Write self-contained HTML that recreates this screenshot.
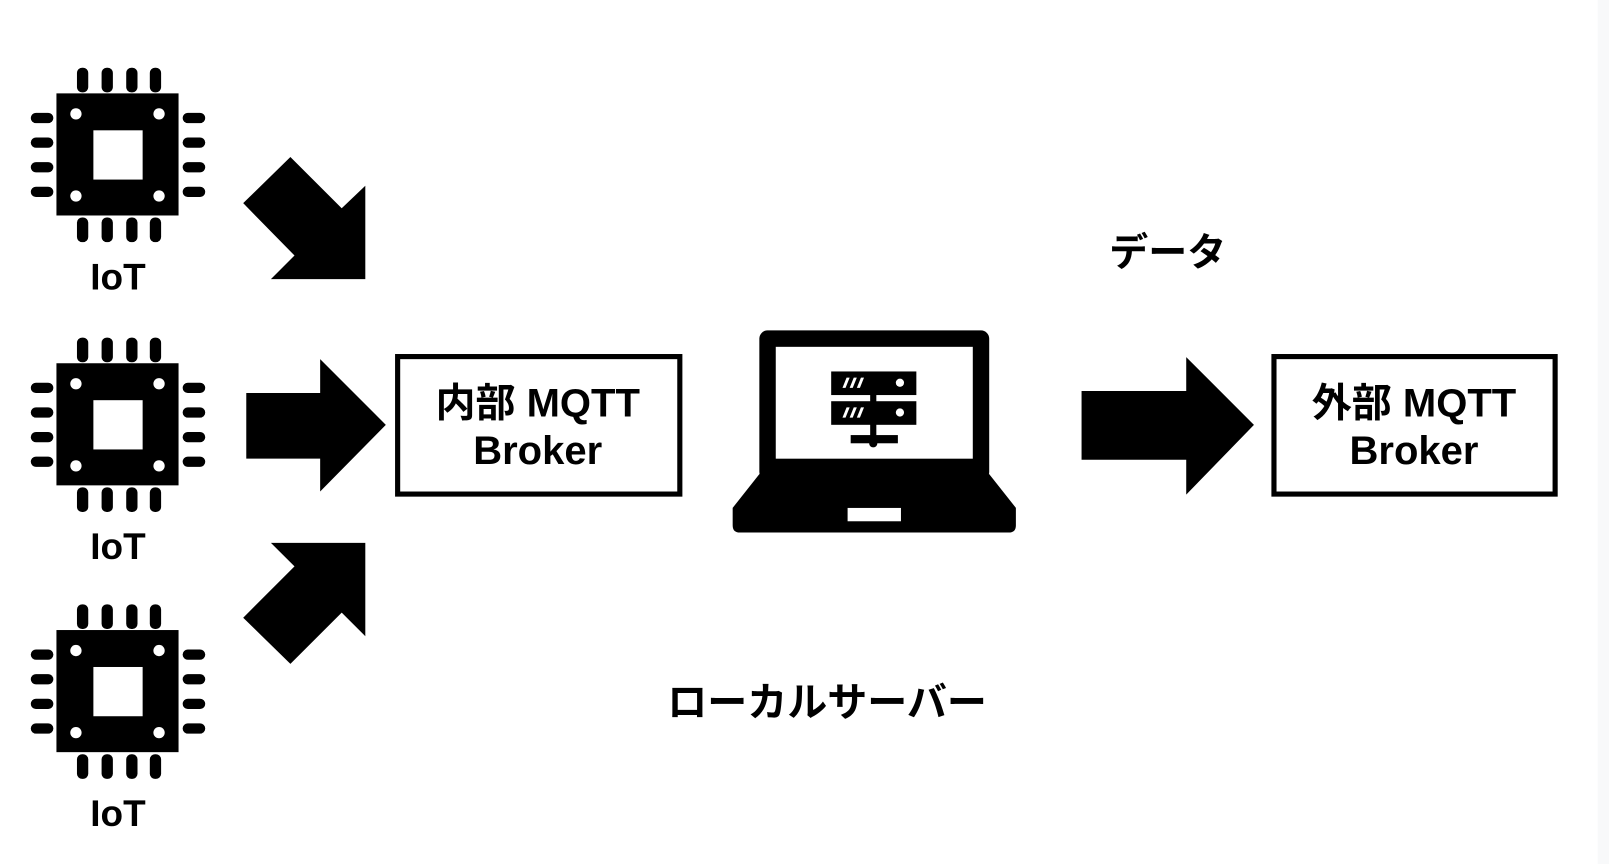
<!DOCTYPE html>
<html><head><meta charset="utf-8"><style>
body{margin:0;background:#fff;}
svg{display:block}
text{font-family:"Liberation Sans","Noto Sans CJK JP",sans-serif;font-weight:bold;fill:#000;text-anchor:middle}
</style></head><body>
<svg width="1609" height="864" viewBox="0 0 1568 842" preserveAspectRatio="none">
<rect x="0" y="0" width="1568" height="842" fill="#fff"/>
<rect x="1557" y="0" width="11" height="842" fill="#f8f9fa"/>
<defs>
<g id="chip">
<rect x="55" y="91" width="119" height="119" fill="#000"/>
<rect x="91" y="127" width="48" height="48" fill="#fff"/>
<circle cx="74" cy="111" r="5.5" fill="#fff"/><circle cx="155" cy="111" r="5.5" fill="#fff"/>
<circle cx="74" cy="191" r="5.5" fill="#fff"/><circle cx="155" cy="191" r="5.5" fill="#fff"/>
<g fill="#000">
<rect x="75" y="66" width="11" height="24" rx="5"/><rect x="99" y="66" width="11" height="24" rx="5"/>
<rect x="123" y="66" width="11" height="24" rx="5"/><rect x="146" y="66" width="11" height="24" rx="5"/>
<rect x="75" y="212" width="11" height="24" rx="5"/><rect x="99" y="212" width="11" height="24" rx="5"/>
<rect x="123" y="212" width="11" height="24" rx="5"/><rect x="146" y="212" width="11" height="24" rx="5"/>
<rect x="30" y="110" width="22" height="10" rx="5"/><rect x="30" y="134" width="22" height="10" rx="5"/>
<rect x="30" y="158" width="22" height="10" rx="5"/><rect x="30" y="182" width="22" height="10" rx="5"/>
<rect x="178" y="110" width="22" height="10" rx="5"/><rect x="178" y="134" width="22" height="10" rx="5"/>
<rect x="178" y="158" width="22" height="10" rx="5"/><rect x="178" y="182" width="22" height="10" rx="5"/>
</g>
</g>
</defs>
<use href="#chip"/>
<use href="#chip" y="263"/>
<use href="#chip" y="523"/>
<text x="115" y="282" font-size="36">IoT</text>
<text x="115" y="545" font-size="36">IoT</text>
<text x="115" y="805" font-size="36">IoT</text>
<polygon points="283,153 237,198 287,249 264,272 356,272 356,181 333,203" fill="#000"/>
<polygon points="240,383 312,383 312,350 376,414 312,479 312,447 240,447" fill="#000"/>
<polygon points="237,602 283,647 333,597 356,620 356,529 264,529 287,552" fill="#000"/>
<rect x="387.5" y="347.5" width="275" height="134" fill="none" stroke="#000" stroke-width="5"/>
<text x="524" y="406" font-size="39">内部 MQTT</text>
<text x="524" y="452" font-size="39">Broker</text>
<rect x="1241.5" y="347.5" width="274" height="134" fill="none" stroke="#000" stroke-width="5"/>
<text x="1378" y="406" font-size="39">外部 MQTT</text>
<text x="1378" y="452" font-size="39">Broker</text>
<rect x="740" y="322" width="224" height="146" rx="8" fill="#000"/>
<rect x="756" y="338" width="192" height="109" fill="#fff"/>
<path d="M740,462 L964,462 L990,495 L990,512 Q990,519 983,519 L721,519 Q714,519 714,512 L714,495 Z" fill="#000"/>
<rect x="826" y="495" width="52" height="13" fill="#fff"/>
<rect x="810" y="362" width="83" height="23" fill="#000"/>
<rect x="810" y="391" width="83" height="23" fill="#000"/>
<rect x="848" y="384" width="6" height="8" fill="#000"/>
<rect x="848" y="413" width="6" height="14" fill="#000"/>
<rect x="829" y="424" width="46" height="8" fill="#000"/>
<circle cx="851" cy="432" r="4" fill="#000"/>
<circle cx="877" cy="373" r="4" fill="#fff"/><circle cx="877" cy="402" r="4" fill="#fff"/>
<g fill="#fff">
<polygon points="821,378 825,368 828,368 824,378"/><polygon points="828,378 832,368 835,368 831,378"/><polygon points="835,378 839,368 842,368 838,378"/>
<polygon points="821,407 825,397 828,397 824,407"/><polygon points="828,407 832,397 835,397 831,407"/><polygon points="835,407 839,397 842,397 838,407"/>
</g>
<polygon points="1054,381 1156,381 1156,348 1222,414 1156,482 1156,448 1054,448" fill="#000"/>
<text x="1138" y="259" font-size="38">データ</text>
<text x="806" y="698" font-size="39">ローカルサーバー</text>
</svg>
</body></html>
